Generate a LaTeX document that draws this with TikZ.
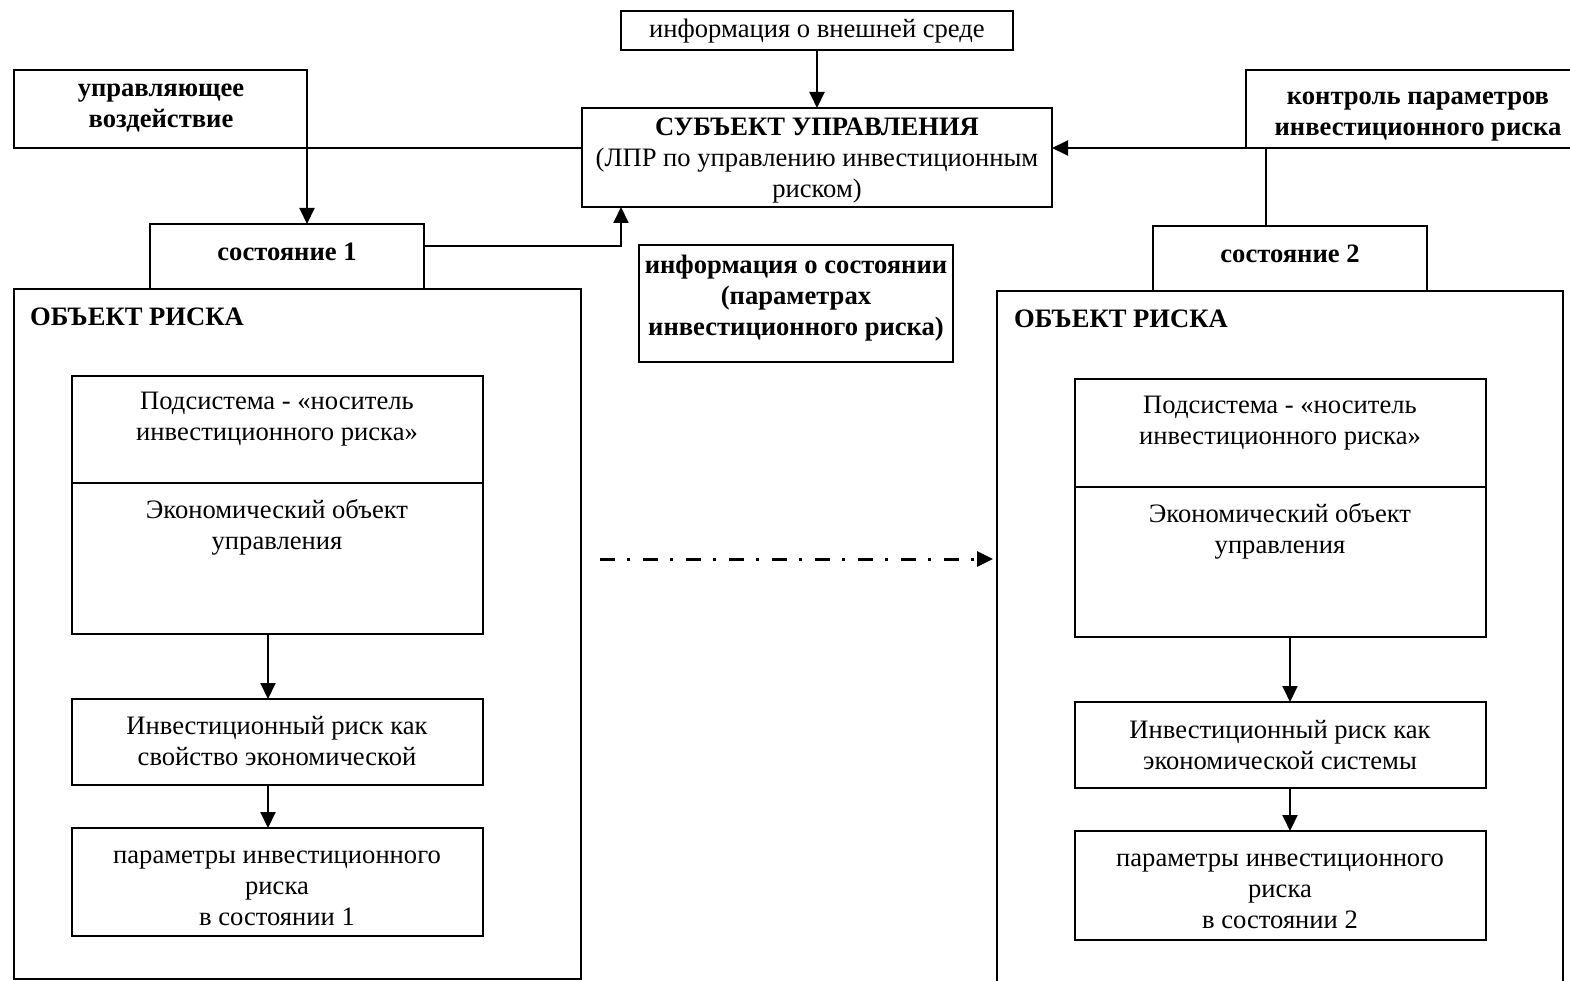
\documentclass[tikz,border=0pt]{standalone}
\usepackage{fontspec}
\setmainfont{Liberation Serif}
\usetikzlibrary{arrows.meta,fit}

\begin{document}
\begin{tikzpicture}[x=1pt,y=-1pt,
  box/.style={draw,line width=2pt,inner sep=0pt,outer sep=0pt,fit={#1}},
  txt/.style={align=center,inner sep=0pt,font=\fontsize{26.6}{31}\selectfont},
  btxt/.style={align=center,inner sep=0pt,font=\fontsize{26.6}{31}\selectfont\bfseries},
  conn/.style={line width=2pt},
  arr/.style={line width=2pt,-{Triangle[length=16pt,width=15pt]}},
  dashdot/.style={line width=3pt,dash pattern=on 15pt off 12pt on 3pt off 13pt,
    -{Triangle[length=16pt,width=15pt]}}]
\useasboundingbox (0,0) rectangle (1570,981);

% upper row: environment info, decision maker, control loop
\node[box={(621,11) (1013,50)}] (topinfo) {};
\node[txt] (t-topinfo) at (817,31) {информация о внешней среде};

\node[box={(14,70) (307,148)}] (upr) {};
\node[btxt] (t-upr) at (161,108) {управляющее\\воздействие};

\node[box={(582,108) (1052,207)}] (subj) {};
\node[txt] (t-subj) at (817,161) {\textbf{СУБЪЕКТ УПРАВЛЕНИЯ}\\(ЛПР по управлению инвестиционным\\риском)};

\node[box={(1246,70) (1575,148)}] (kontr) {};
\node[btxt] (t-kontr) at (1418,117) {контроль параметров\\инвестиционного риска};

\node[box={(639,245) (953,362)}] (stinfo) {};
\node[btxt] (t-stinfo) at (796,298) {информация о состоянии\\(параметрах\\инвестиционного риска)};

% states
\node[box={(150,224) (424,289)}] (sost1) {};
\node[btxt] (t-sost1) at (287,252) {состояние 1};
\node[box={(1153,226) (1427,291)}] (sost2) {};
\node[btxt] (t-sost2) at (1290,254) {состояние 2};

% risk object, state 1
\node[box={(14,289) (581,979)}] (obj1) {};
\node[btxt,anchor=west] (t-obj1) at (30,317) {ОБЪЕКТ РИСКА};
\node[box={(72,376) (483,634)}] (in1) {};
\draw[conn] ([yshift=-107pt]in1.north west) -- ([yshift=-107pt]in1.north east);
\node[txt] (t-in1a) at (277,419) {Подсистема - «носитель\\инвестиционного риска»};
\node[txt] (t-in1b) at (277,527) {Экономический объект\\управления};
\node[box={(72,699) (483,785)}] (risk1) {};
\node[txt] (t-risk1) at (277,741) {Инвестиционный риск как\\свойство экономической};
\node[box={(72,828) (483,936)}] (par1) {};
\node[txt] (t-par1) at (277,888) {параметры инвестиционного\\риска\\в состоянии 1};

% risk object, state 2
\node[box={(997,291) (1563,995)}] (obj2) {};
\node[btxt,anchor=west] (t-obj2) at (1014,319) {ОБЪЕКТ РИСКА};
\node[box={(1075,379) (1486,637)}] (in2) {};
\draw[conn] ([yshift=-108pt]in2.north west) -- ([yshift=-108pt]in2.north east);
\node[txt] (t-in2a) at (1280,423) {Подсистема - «носитель\\инвестиционного риска»};
\node[txt] (t-in2b) at (1280,531) {Экономический объект\\управления};
\node[box={(1075,702) (1486,788)}] (risk2) {};
\node[txt] (t-risk2) at (1280,745) {Инвестиционный риск как\\экономической системы};
\node[box={(1075,831) (1486,940)}] (par2) {};
\node[txt] (t-par2) at (1280,891) {параметры инвестиционного\\риска\\в состоянии 2};

% connectors
\draw[arr] (topinfo.south) -- (topinfo.south |- subj.north);
\draw[arr] (subj.west |- upr.south) -- (upr.south east) -- (upr.south east |- sost1.north);
\draw[arr] ([yshift=10.5pt]sost1.east) -| ([xshift=39pt]subj.south west);
\draw[arr] (kontr.south west) -- (kontr.south west -| subj.east);
\draw[conn] ([xshift=20pt]kontr.south west) -- ([xshift=20pt]kontr.south west |- sost2.north);

\draw[arr] ([xshift=-9.5pt]in1.south) -- ([xshift=-9.5pt]risk1.north);
\draw[arr] ([xshift=-9.5pt]risk1.south) -- ([xshift=-9.5pt]par1.north);
\draw[arr] ([xshift=9.5pt]in2.south) -- ([xshift=9.5pt]risk2.north);
\draw[arr] ([xshift=9.5pt]risk2.south) -- ([xshift=9.5pt]par2.north);

\coordinate (ddstart) at (600,559);
\draw[dashdot,shorten >=4pt] (ddstart) -- (ddstart -| obj2.west);
\end{tikzpicture}
\end{document}
